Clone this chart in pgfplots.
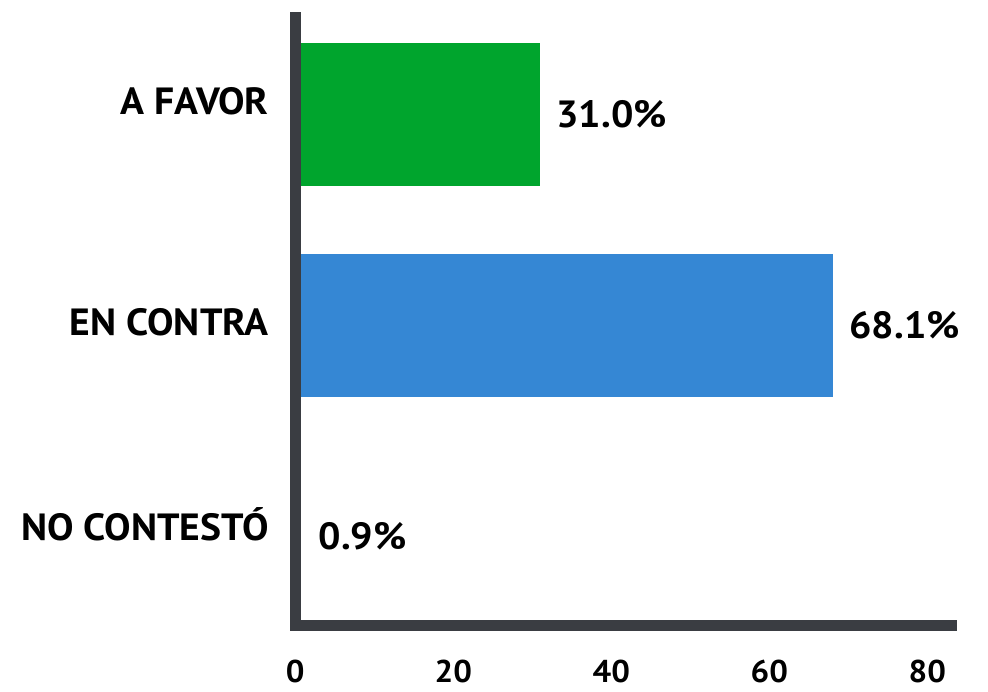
\documentclass[border=0pt]{standalone}
\usepackage{fontspec}
\setmainfont{PT Sans}[FakeStretch=1.045]
\usepackage{pgfplots}
\pgfplotsset{compat=1.18}
\definecolor{axisgray}{HTML}{3A3D42}
\definecolor{favgreen}{HTML}{00A52D}
\definecolor{conblue}{HTML}{3587D4}
\begin{document}
\begin{tikzpicture}
\path[use as bounding box] (-295.3bp,-66.7bp) rectangle (692.7bp,625.3bp);
\begin{axis}[
  at={(0bp,0bp)}, anchor=south west,
  scale only axis, width=656.7bp, height=607.6bp,
  xmin=0, xmax=83.13, ymin=-0.421, ymax=2.459,
  xbar, bar width=143bp, bar shift=0pt,
  axis lines=left,
  axis line style={-, line width=10.7bp, draw=axisgray, line cap=rect},
  axis on top, clip=false,
  major tick length=0pt,
  xtick={0,20,40,60,80},
  ytick={0.045,1.014,2.061},
  yticklabels={NO CONTESTÓ, EN CONTRA, A FAVOR},
  /pgf/number format/assume math mode=true,
  xticklabel style={font=\fontsize{31.5bp}{31.5bp}\selectfont\bfseries, anchor=north, inner sep=0pt},
  xticklabel shift=34.7bp,
  yticklabel style={font=\fontsize{37.9bp}{38bp}\selectfont\bfseries, anchor=east, inner sep=0pt, text height=26.5bp, text depth=0pt},
  yticklabel shift=26.3bp,
  point meta=x,
  nodes near coords={\pgfmathprintnumber[fixed,fixed zerofill,precision=1]{\pgfplotspointmeta}\%},
  nodes near coords style={font=\fontsize{37.9bp}{38bp}\selectfont\bfseries, anchor=west, inner sep=0pt, xshift=16bp, text=black},
]
\addplot[draw=none, fill=favgreen] coordinates {(31.0,2)};
\addplot[draw=none, fill=conblue] coordinates {(68.1,1)};
\addplot[draw=none, fill=white] coordinates {(0.9,0)};
\end{axis}
\end{tikzpicture}
\end{document}
